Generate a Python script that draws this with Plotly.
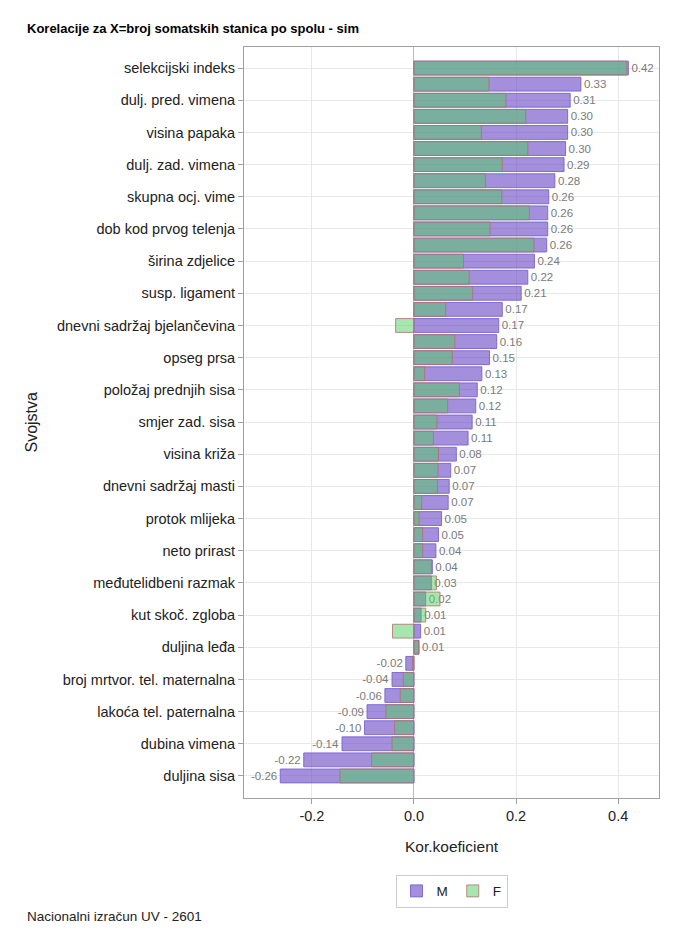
import plotly.graph_objects as go

# redovi odozgo prema dolje (45 svojstava), oznake samo na svakom drugom
rows = list(range(1, 46))
tick_rows = list(range(1, 46, 2))
tick_labels = ['selekcijski indeks', 'dulj. pred. vimena', 'visina papaka',
               'dulj. zad. vimena', 'skupna ocj. vime', 'dob kod prvog telenja',
               'širina zdjelice', 'susp. ligament', 'dnevni sadržaj bjelančevina',
               'opseg prsa', 'položaj prednjih sisa', 'smjer zad. sisa',
               'visina križa', 'dnevni sadržaj masti', 'protok mlijeka',
               'neto prirast', 'međutelidbeni razmak', 'kut skoč. zgloba',
               'duljina leđa', 'broj mrtvor. tel. maternalna',
               'lakoća tel. paternalna', 'dubina vimena', 'duljina sisa']

kor_m = [0.420, 0.327, 0.306, 0.301, 0.301, 0.297, 0.294, 0.276, 0.264,
         0.262, 0.262, 0.260, 0.236, 0.223, 0.210, 0.173, 0.166, 0.162,
         0.148, 0.133, 0.124, 0.121, 0.114, 0.106, 0.083, 0.072, 0.069,
         0.067, 0.054, 0.048, 0.043, 0.036, 0.034, 0.023, 0.014, 0.013,
         0.010, -0.016, -0.043, -0.057, -0.092, -0.097, -0.141, -0.216,
         -0.262]
kor_f = [0.417, 0.147, 0.180, 0.219, 0.132, 0.223, 0.173, 0.140, 0.172,
         0.226, 0.149, 0.235, 0.097, 0.108, 0.115, 0.062, -0.036, 0.080,
         0.075, 0.021, 0.089, 0.066, 0.045, 0.038, 0.048, 0.047, 0.046,
         0.015, 0.010, 0.017, 0.017, 0.034, 0.044, 0.051, 0.023, -0.042,
         0.009, -0.003, -0.021, -0.027, -0.055, -0.038, -0.043, -0.083,
         -0.145]

font = 'Arial, Liberation Sans, sans-serif'

fig = go.Figure()
fig.add_trace(go.Bar(y=rows, x=kor_m, orientation='h', name='M', width=0.86,
                     marker=dict(color='rgba(102,68,195,0.6)',
                                 line=dict(color='rgba(120,100,205,0.9)', width=1)),
                     text=['%.2f' % v for v in kor_m], textposition='outside',
                     textfont=dict(size=11.5, color='#7a7a7a'), cliponaxis=False))
fig.add_trace(go.Bar(y=rows, x=kor_f, orientation='h', name='F', width=0.86,
                     marker=dict(color='rgba(81,205,97,0.5)',
                                 line=dict(color='rgba(180,110,110,0.8)', width=1))))

# stranica ima 8px ruba, zato margine pomaknute
fig.update_layout(
    barmode='overlay',
    width=680, height=945,
    margin=dict(l=236, r=29, t=39, b=155),
    plot_bgcolor='white', paper_bgcolor='white',
    font=dict(family=font, size=14.5, color='#222222'),
    showlegend=True,
    legend=dict(orientation='h', x=0.5, xanchor='center', y=-0.102, yanchor='top',
                bordercolor='#cccccc', borderwidth=1, font=dict(size=13.5),
                itemwidth=30, tracegroupgap=0),
    annotations=[
        dict(text='<b>Korelacije za X=broj somatskih stanica po spolu - sim</b>',
             xref='paper', yref='paper', x=(25 - 244) / 415, y=1 + 18 / 751,
             xanchor='left', yanchor='middle', showarrow=False,
             font=dict(size=13, color='black')),
        dict(text='Svojstva', xref='paper', yref='paper', x=(31 - 244) / 415, y=0.5,
             textangle=-90, xanchor='center', yanchor='middle', showarrow=False,
             font=dict(size=16)),
        dict(text='Kor.koeficient', xref='paper', yref='paper', x=0.5,
             y=-48 / 751, xanchor='center', yanchor='middle', showarrow=False,
             font=dict(size=15.5)),
        dict(text='Nacionalni izračun UV - 2601', xref='paper', yref='paper',
             x=(25 - 244) / 415, y=-118 / 751, xanchor='left', yanchor='middle',
             showarrow=False, font=dict(size=13.5)),
    ],
)
fig.update_xaxes(range=[-0.333, 0.48], tickvals=[-0.2, 0, 0.2, 0.4],
                 ticktext=['-0.2', '0.0', '0.2', '0.4'],
                 showgrid=True, gridcolor='#e8e8e8', zeroline=True,
                 zerolinecolor='#bbbbbb', zerolinewidth=1,
                 showline=True, linecolor='#a0a0a0', mirror=True,
                 ticks='outside', ticklen=5, tickcolor='#a0a0a0')
fig.update_yaxes(range=[46.37, -0.31], tickvals=tick_rows, ticktext=tick_labels,
                 showgrid=True, gridcolor='#e8e8e8', zeroline=False,
                 showline=True, linecolor='#a0a0a0', mirror=True,
                 ticks='outside', ticklen=5, tickcolor='#a0a0a0')

fig.write_html('out.html')
